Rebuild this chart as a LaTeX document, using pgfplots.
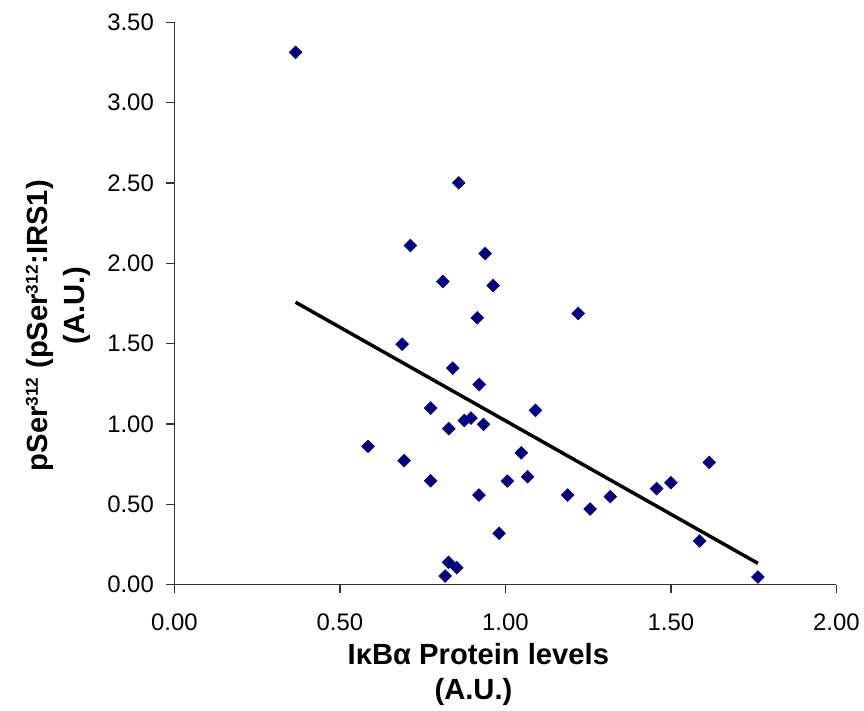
\documentclass[border=0pt]{standalone}
\usepackage{fontspec}
\setmainfont{Liberation Sans}
\usepackage{pgfplots}
\pgfplotsset{compat=1.18}
\definecolor{markblue}{RGB}{0,0,128}

\pgfplotstableread{
x      y
0.366  3.313
0.859  2.501
0.713  2.111
0.939  2.061
0.811  1.887
0.963  1.862
0.915  1.661
0.688  1.497
0.841  1.348
0.921  1.246
0.774  1.099
1.091  1.085
0.876  1.022
0.896  1.037
0.934  0.998
0.829  0.971
0.585  0.861
1.048  0.821
0.694  0.772
1.067  0.672
0.774  0.647
1.006  0.645
0.920  0.558
1.188  0.558
1.317  0.548
1.256  0.471
0.981  0.320
0.828  0.139
0.853  0.106
0.818  0.054
1.220  1.688
1.616  0.761
1.500  0.635
1.457  0.598
1.587  0.272
1.763  0.048
}\scatterdata

\begin{document}
\begin{tikzpicture}
\begin{axis}[
  at={(0,0)}, anchor=south west,
  scale only axis,
  width=497bp, height=422.3bp,
  xmin=0, xmax=2, ymin=0, ymax=3.5,
  axis lines*=left,
  axis line style={black!80, line width=1pt},
  tick align=outside,
  major tick length=6bp,
  tick style={black!80, line width=1pt},
  xtick={0,0.5,...,2}, ytick={0,0.5,...,3.5},
  /pgf/number format/.cd, fixed, fixed zerofill, precision=2, assume math mode=true,
  /pgfplots/.cd,
  ticklabel style={font=\fontsize{18}{21}\selectfont},
  xticklabel style={yshift=-12bp},
  yticklabel style={xshift=-6bp},
  clip=false,
]
\addplot[only marks, mark=square*, mark size=3.4bp,
  mark options={rotate=45, fill=markblue, draw=markblue}]
  table[x=x, y=y] {\scatterdata};
\addplot[black, line width=2.6bp] coordinates {(0.366,1.758) (1.763,0.133)};
\end{axis}
% axis titles
\node[font=\fontsize{22}{26}\bfseries\selectfont] at (228.2bp,-52.2bp) {IκBα Protein levels};
\node[font=\fontsize{22}{26}\bfseries\selectfont] at (224.5bp,-80.7bp) {(A.U.)};
\node[font=\fontsize{22}{26}\bfseries\selectfont, rotate=90] at (-101bp,194.5bp) {pSer\textsuperscript{\fontsize{13}{15}\selectfont 312} (pSer\textsuperscript{\fontsize{13}{15}\selectfont 312}:IRS1)};
\node[font=\fontsize{22}{26}\bfseries\selectfont, rotate=90] at (-73.3bp,209.6bp) {(A.U.)};
\useasboundingbox (-131bp,-92.7bp) rectangle (517bp,439.05bp);
\end{tikzpicture}
\end{document}
